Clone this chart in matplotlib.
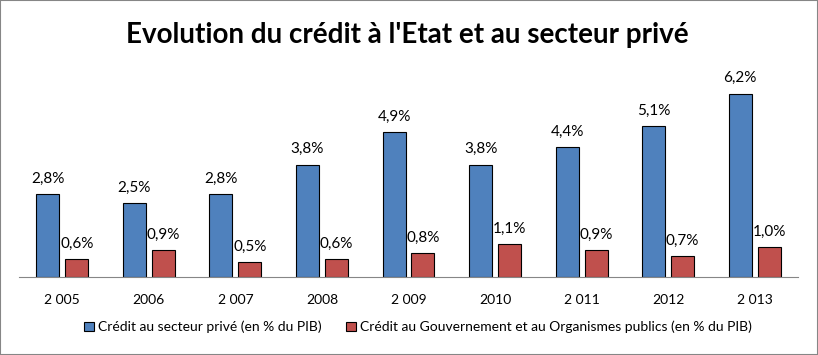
import matplotlib.pyplot as plt
from matplotlib.patches import Rectangle
import numpy as np

plt.rcParams['font.family'] = ['Lato', 'DejaVu Sans']

years = ['2 005', '2006', '2 007', '2008', '2 009', '2010', '2 011', '2012', '2 013']
prive = [2.8, 2.5, 2.8, 3.8, 4.9, 3.8, 4.4, 5.1, 6.2]
public = [0.6, 0.9, 0.5, 0.6, 0.8, 1.1, 0.9, 0.7, 1.0]
prive_lbl = ['2,8%', '2,5%', '2,8%', '3,8%', '4,9%', '3,8%', '4,4%', '5,1%', '6,2%']
public_lbl = ['0,6%', '0,9%', '0,5%', '0,6%', '0,8%', '1,1%', '0,9%', '0,7%', '1,0%']

blue = '#4F81BD'
red = '#C0504D'

fig = plt.figure(figsize=(8.18, 3.55), dpi=100)
ax = fig.add_axes([19 / 818, 1 - 277 / 355, 779 / 818, 210 / 355])

x = np.arange(len(years))
w = 0.266
off = 0.167
ax.bar(x - off, prive, w, color=blue, edgecolor='black', linewidth=0.8,
       label='Crédit au secteur privé (en % du PIB)')
ax.bar(x + off, public, w, color=red, edgecolor='black', linewidth=0.8,
       label='Crédit au Gouvernement et au Organismes publics (en % du PIB)')

for xi, v, t in zip(x, prive, prive_lbl):
    ax.annotate(t, (xi - off, v), xytext=(0, 6), textcoords='offset points',
                ha='center', va='bottom', fontsize=11)
for xi, v, t in zip(x, public, public_lbl):
    ax.annotate(t, (xi + off, v), xytext=(0, 6), textcoords='offset points',
                ha='center', va='bottom', fontsize=11)

ax.set_xlim(-0.5, len(years) - 0.5)
ax.set_ylim(0, 7.1)
ax.set_xticks(x)
ax.set_xticklabels(years, fontsize=10)
ax.tick_params(axis='x', length=0, pad=12)
ax.set_yticks([])
for s in ['top', 'right', 'left']:
    ax.spines[s].set_visible(False)
ax.spines['bottom'].set_color('#868686')

fig.legend(loc='center', bbox_to_anchor=(418 / 818, 1 - 327 / 355), ncol=2,
           frameon=False, fontsize=10, handlelength=0.7, handleheight=0.7,
           handletextpad=0.3, columnspacing=1.8)

fig.text(407 / 818, 1 - 35 / 355, "Evolution du crédit à l'Etat et au secteur privé",
         ha='center', va='center', fontsize=20, fontweight='bold')

fig.patches.append(Rectangle((0, 0), 1, 1, transform=fig.transFigure, fill=False,
                             edgecolor='#868686', linewidth=1.5))

fig.savefig('out.png', dpi=100)
